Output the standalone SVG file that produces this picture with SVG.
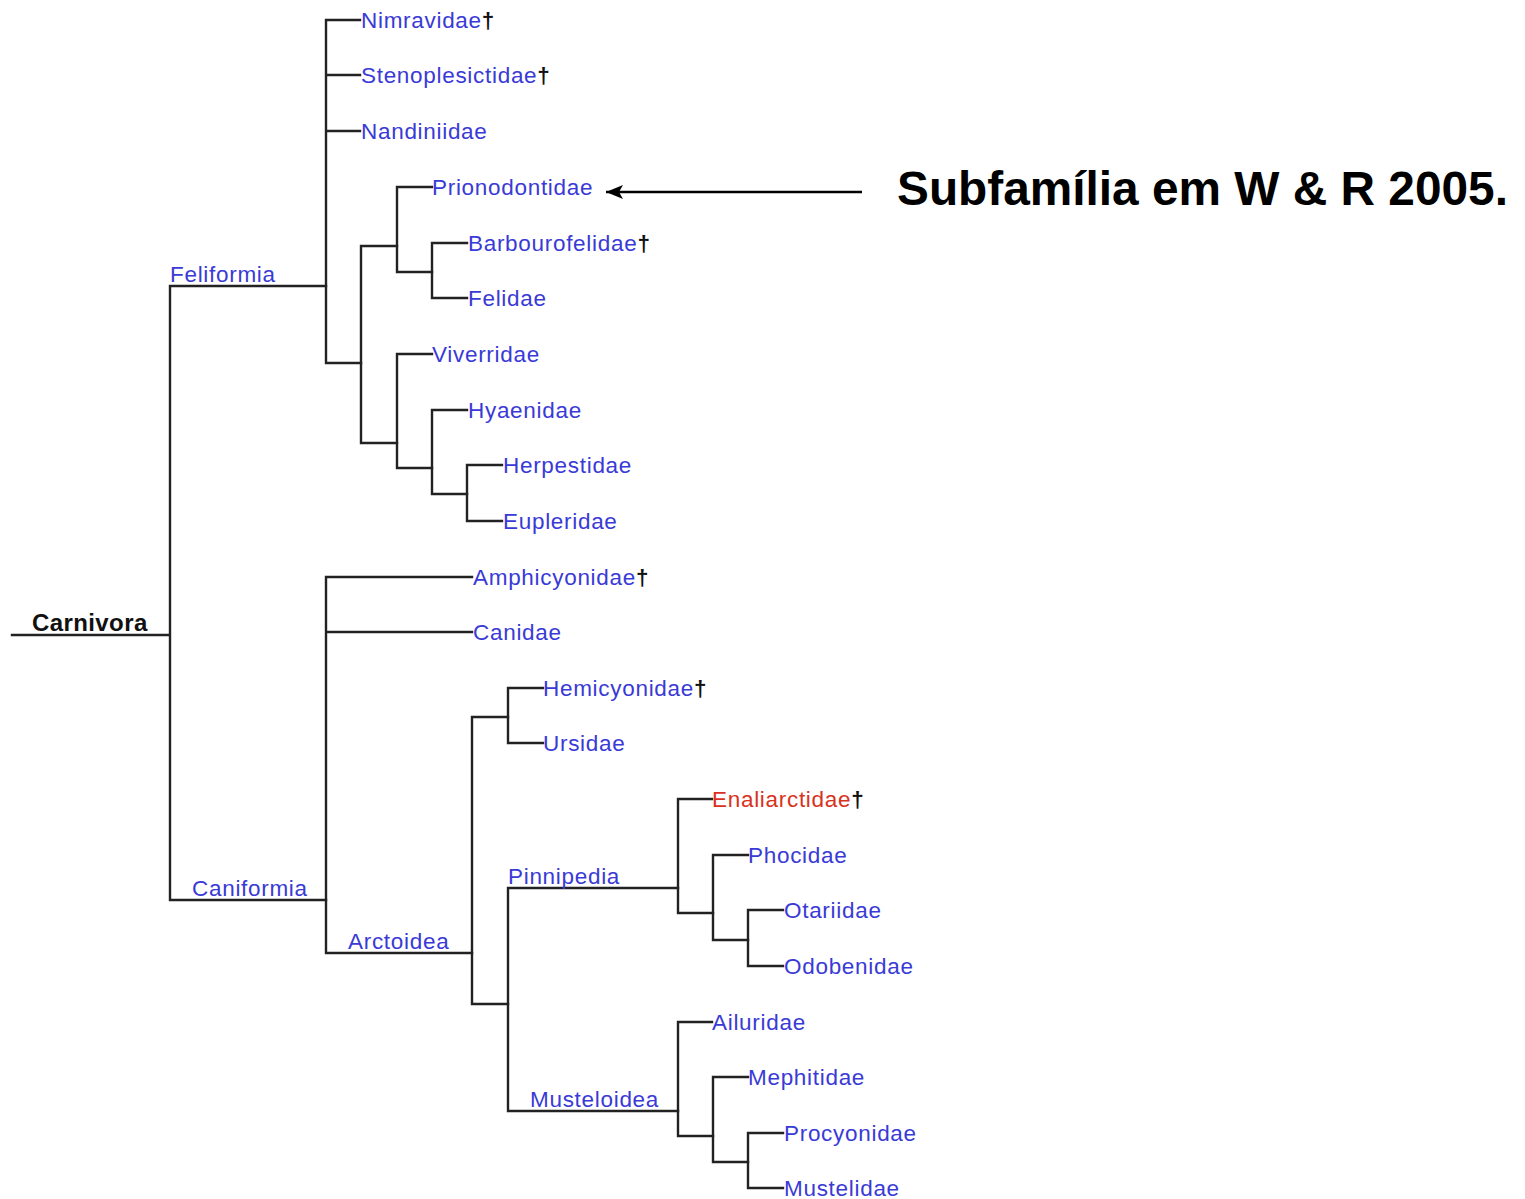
<svg xmlns="http://www.w3.org/2000/svg" width="1525" height="1199" viewBox="0 0 1525 1199">
<style>
.c{fill:none;stroke:#222;stroke-width:2.4;stroke-linecap:square}
.t{font-family:"Liberation Sans",Arial,sans-serif;font-size:22.5px;letter-spacing:0.7px;fill:#3a3ad6}
.r{fill:#d8321e}
.d{fill:#111;font-weight:bold}
.b{font-family:"Liberation Sans",Arial,sans-serif;font-weight:bold;font-size:24px;letter-spacing:0.4px;fill:#111}
.n{font-family:"Liberation Sans",Arial,sans-serif;font-weight:bold;font-size:47.8px;fill:#000}
</style>
<defs>
<marker id="ah" markerWidth="18" markerHeight="14" refX="17" refY="7" orient="auto" markerUnits="userSpaceOnUse">
<path d="M0,0 L17,7 L0,14 L4,7 Z" fill="#000"/>
</marker>
</defs>
<rect width="1525" height="1199" fill="#fff"/>
<g id="connectors">
<path class="c" d="M12,635 H170 M170,286 V900 M170,286 H326 M170,900 H326"/>
<path class="c" d="M326,20 V363 M326,20 H360 M326,75 H360 M326,131 H360 M326,363 H361"/>
<path class="c" d="M361,246 V443 M361,246 H397 M361,443 H397"/>
<path class="c" d="M397,187 V272 M397,187 H432 M397,272 H432"/>
<path class="c" d="M432,243 V298 M432,243 H467 M432,298 H467"/>
<path class="c" d="M397,354 V468 M397,354 H432 M397,468 H432"/>
<path class="c" d="M432,410 V494 M432,410 H467 M432,494 H467"/>
<path class="c" d="M467,465 V521 M467,465 H502 M467,521 H502"/>
<path class="c" d="M326,577 V953 M326,577 H472 M326,632 H472 M326,953 H472"/>
<path class="c" d="M472,717 V1004 M472,717 H508 M472,1004 H508"/>
<path class="c" d="M508,688 V743 M508,688 H543 M508,743 H543"/>
<path class="c" d="M508,888 V1111 M508,888 H678 M508,1111 H678"/>
<path class="c" d="M678,799 V913 M678,799 H712 M678,913 H713"/>
<path class="c" d="M713,855 V940 M713,855 H748 M713,940 H748"/>
<path class="c" d="M748,910 V966 M748,910 H783 M748,966 H783"/>
<path class="c" d="M678,1022 V1136 M678,1022 H712 M678,1136 H713"/>
<path class="c" d="M713,1077 V1162 M713,1077 H748 M713,1162 H748"/>
<path class="c" d="M748,1133 V1188 M748,1133 H783 M748,1188 H783"/>
<path d="M862,192 H606" stroke="#000" stroke-width="2.6" fill="none" marker-end="url(#ah)"/>
</g>
<g id="carnivora"><text class="b" x="32" y="631">Carnivora</text></g>
<g id="feliformia"><text class="t" x="170" y="282">Feliformia</text></g>
<g id="caniformia"><text class="t" x="192" y="896">Caniformia</text></g>
<g id="arctoidea"><text class="t" x="348" y="949">Arctoidea</text></g>
<g id="pinnipedia"><text class="t" x="508" y="884">Pinnipedia</text></g>
<g id="musteloidea"><text class="t" x="530" y="1107">Musteloidea</text></g>
<g id="nimravidae"><text class="t" x="361" y="28">Nimravidae<tspan class="d">†</tspan></text></g>
<g id="stenoplesictidae"><text class="t" x="361" y="83">Stenoplesictidae<tspan class="d">†</tspan></text></g>
<g id="nandiniidae"><text class="t" x="361" y="139">Nandiniidae</text></g>
<g id="prionodontidae"><text class="t" x="432" y="195">Prionodontidae</text></g>
<g id="barbourofelidae"><text class="t" x="468" y="251">Barbourofelidae<tspan class="d">†</tspan></text></g>
<g id="felidae"><text class="t" x="468" y="306">Felidae</text></g>
<g id="viverridae"><text class="t" x="432" y="362">Viverridae</text></g>
<g id="hyaenidae"><text class="t" x="468" y="418">Hyaenidae</text></g>
<g id="herpestidae"><text class="t" x="503" y="473">Herpestidae</text></g>
<g id="eupleridae"><text class="t" x="503" y="529">Eupleridae</text></g>
<g id="amphicyonidae"><text class="t" x="473" y="585">Amphicyonidae<tspan class="d">†</tspan></text></g>
<g id="canidae"><text class="t" x="473" y="640">Canidae</text></g>
<g id="hemicyonidae"><text class="t" x="543" y="696">Hemicyonidae<tspan class="d">†</tspan></text></g>
<g id="ursidae"><text class="t" x="543" y="751">Ursidae</text></g>
<g id="enaliarctidae"><text class="t r" x="712" y="807">Enaliarctidae<tspan class="d">†</tspan></text></g>
<g id="phocidae"><text class="t" x="748" y="863">Phocidae</text></g>
<g id="otariidae"><text class="t" x="784" y="918">Otariidae</text></g>
<g id="odobenidae"><text class="t" x="784" y="974">Odobenidae</text></g>
<g id="ailuridae"><text class="t" x="712" y="1030">Ailuridae</text></g>
<g id="mephitidae"><text class="t" x="748" y="1085">Mephitidae</text></g>
<g id="procyonidae"><text class="t" x="784" y="1141">Procyonidae</text></g>
<g id="mustelidae"><text class="t" x="784" y="1196">Mustelidae</text></g>
<g id="note"><text class="n" x="897" y="205">Subfamília em W &amp; R 2005.</text></g>
</svg>
